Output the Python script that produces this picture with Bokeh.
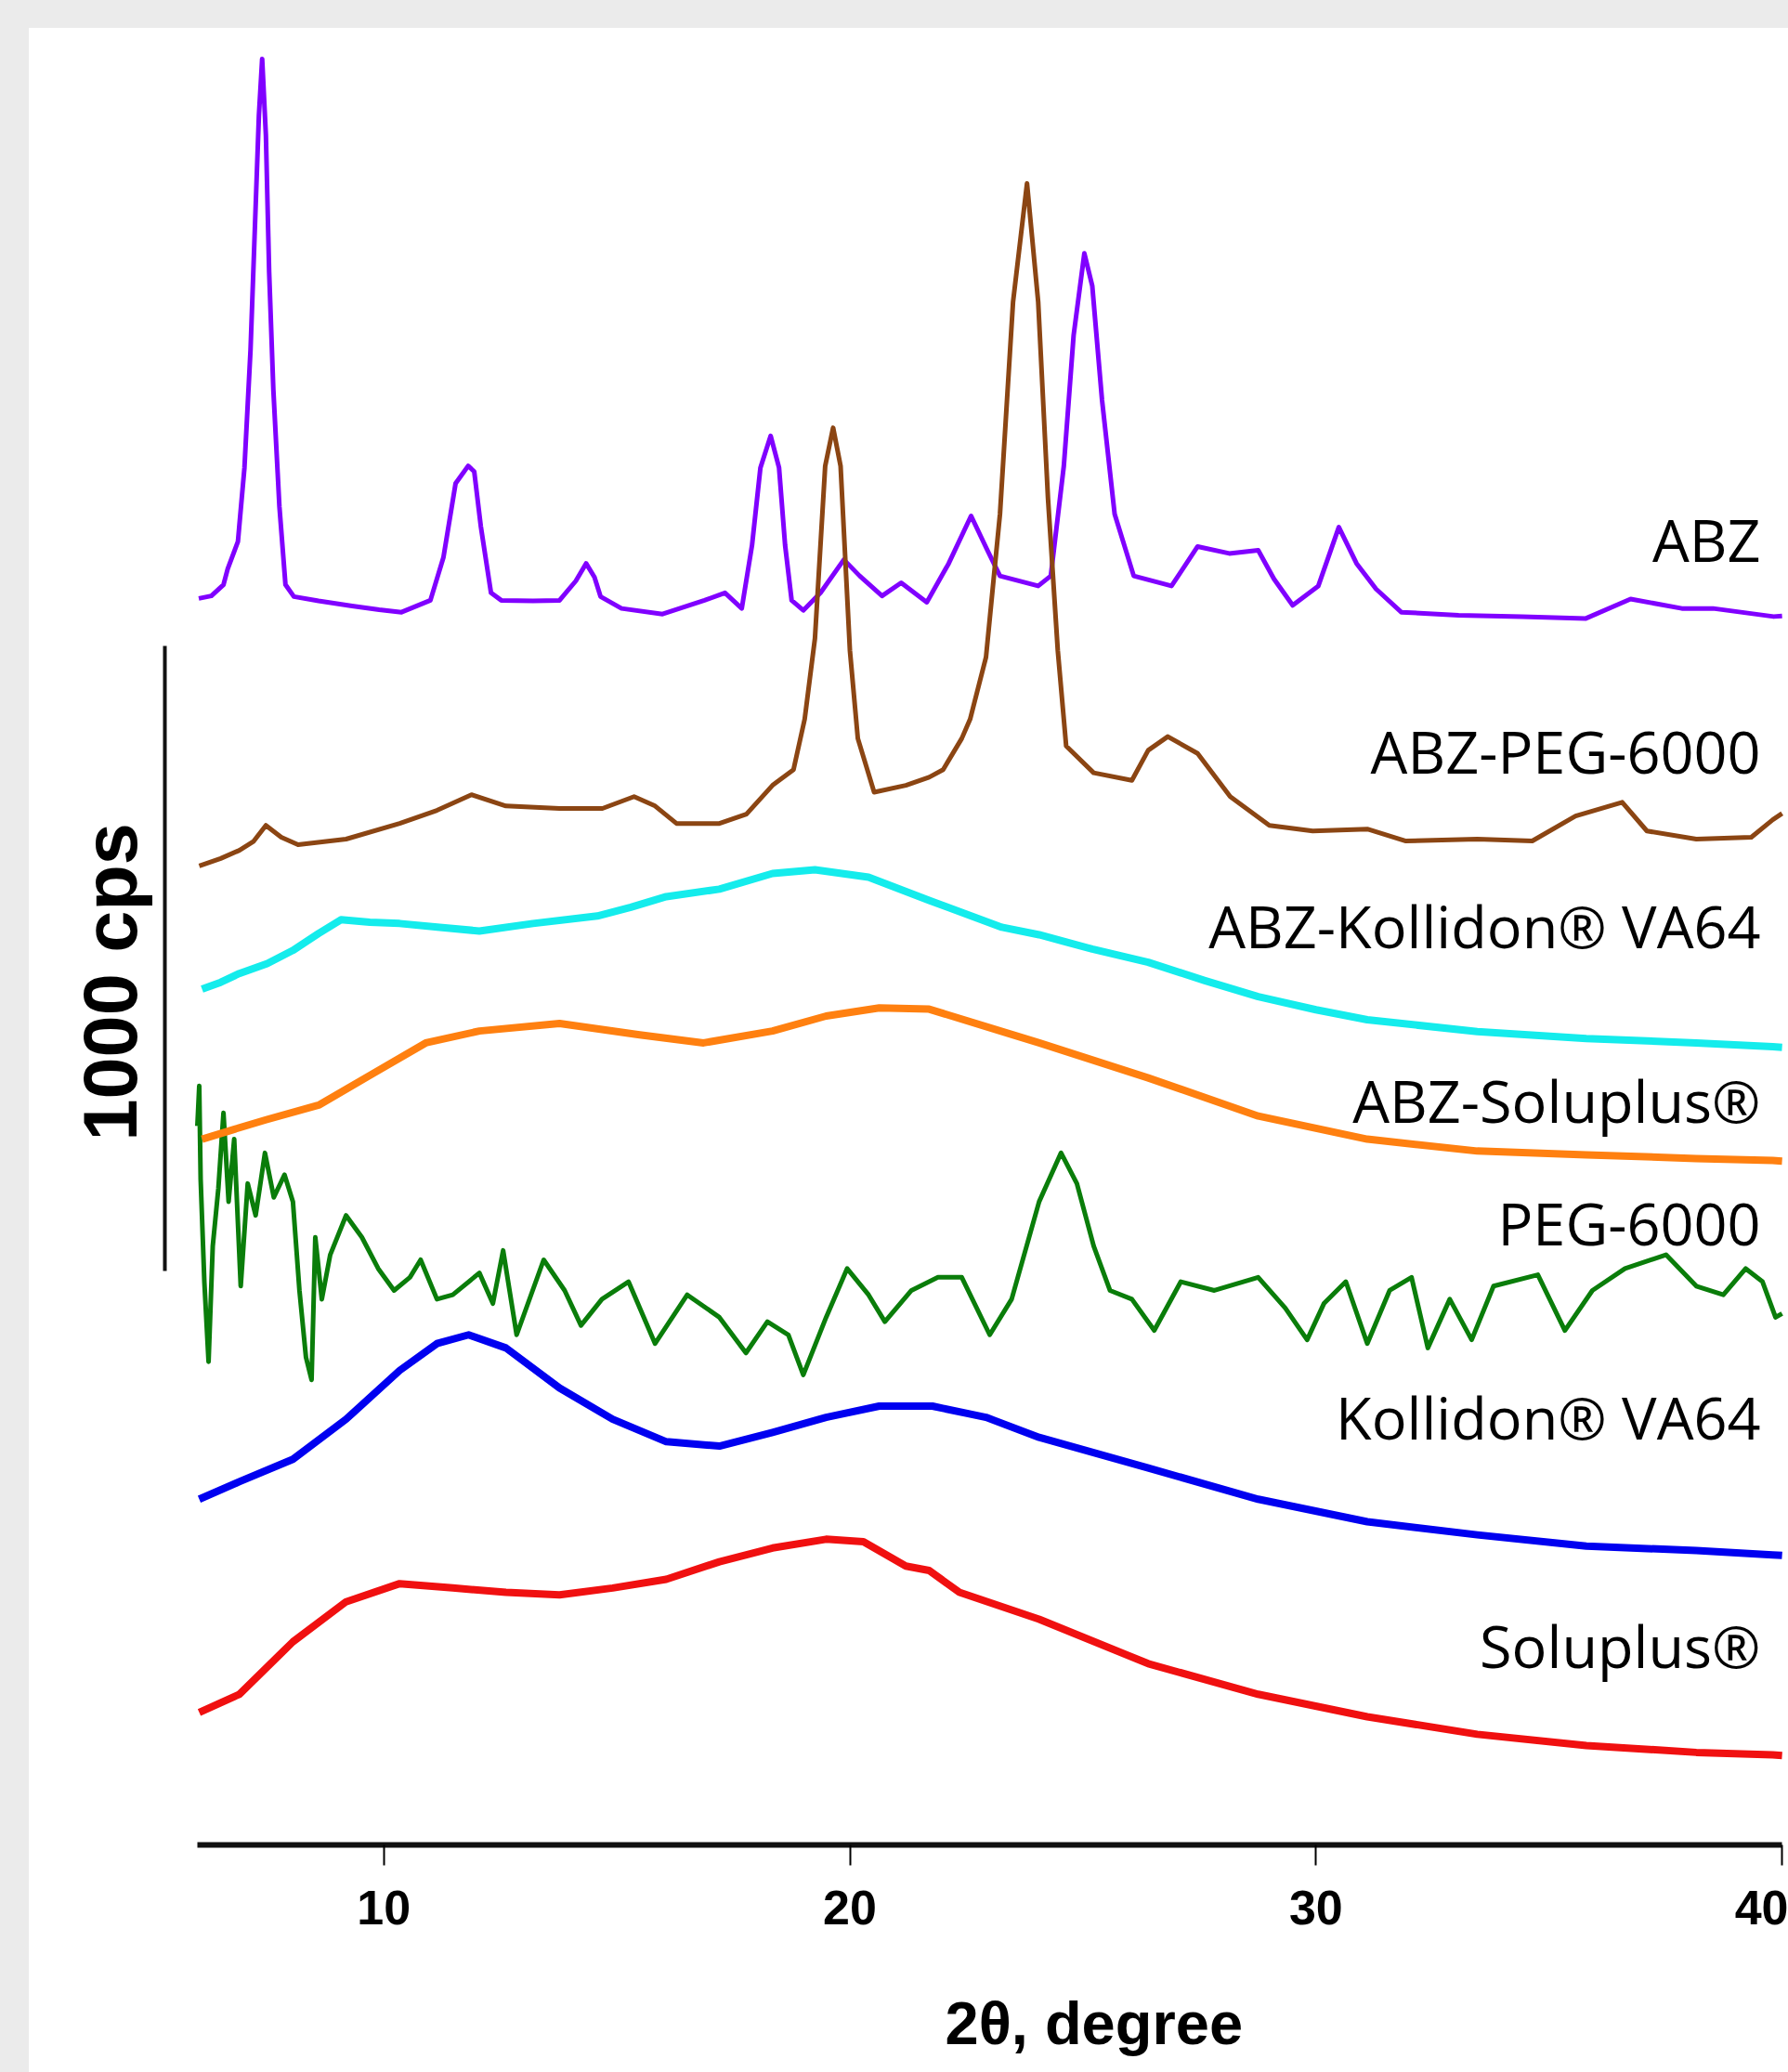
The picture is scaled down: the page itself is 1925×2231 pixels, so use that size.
from bokeh.plotting import figure
from bokeh.models import Range1d, LinearAxis, FixedTicker, Div, ColumnDataSource, Title
from bokeh.layouts import column, row
from bokeh.embed import file_html
from bokeh.resources import INLINE
from bokeh.core.properties import value

# ---------------- data (2theta in degrees, intensity in cps) ----------------
series_names = ["ABZ", "ABZ-PEG-6000", "ABZ-Kollidon\u00ae VA64", "ABZ-Soluplus\u00ae",
                "PEG-6000", "Kollidon\u00ae VA64", "Soluplus\u00ae"]
series_colors = ["#8000FF", "#8B4513", "#14ECEC", "#FF8010", "#0A7D0A", "#0000F0", "#F01010"]
stack_offsets = [1900, 1500, 1200, 1000, 700, 400, 100]

abz_x = [6.03, 6.3, 6.56, 6.65, 6.87, 7.01, 7.14, 7.23, 7.32, 7.39, 7.47, 7.54, 7.63, 7.76, 7.89,
         8.07, 8.6, 9.32, 9.9, 10.38, 11.0, 11.28, 11.54, 11.81, 11.94, 12.08, 12.3, 12.52, 13.2,
         13.77, 14.12, 14.34, 14.52, 14.65, 15.1, 15.98, 16.88, 17.32, 17.68, 17.9, 18.08, 18.3,
         18.48, 18.61, 18.75, 19.0, 19.37, 19.87, 20.21, 20.69, 21.1, 21.65, 22.12, 22.6, 22.95,
         23.22, 24.04, 24.31, 24.59, 24.8, 25.03, 25.2, 25.41, 25.68, 26.09, 26.9, 27.46, 28.14,
         28.76, 29.1, 29.5, 30.05, 30.49, 30.87, 31.29, 31.83, 33.06, 34.42, 35.79, 36.75, 37.85,
         38.52, 39.82, 40.0]
abz_y = [94, 98, 116, 141, 185, 303, 491, 679, 867, 957, 835, 616, 428, 241, 116,
         97, 90, 82, 76, 72, 91, 160, 278, 306, 297, 210, 103, 91, 90,
         91, 122, 150, 128, 97, 78, 69, 91, 103, 78, 179, 303, 354,
         303, 179, 91, 75, 103, 156, 130, 98, 119, 88, 150, 226, 171,
         130, 114, 130, 306, 515, 646, 594, 411, 229, 130, 114, 177, 166,
         171, 125, 83, 114, 208, 150, 109, 72, 67, 65, 62, 93, 78,
         78, 65, 66]

abz_peg_x = [6.04, 6.5, 6.9, 7.2, 7.47, 7.8, 8.16, 9.19, 10.34, 11.14, 11.88, 12.62, 13.77, 14.69,
             15.37, 15.82, 16.28, 17.2, 17.78, 18.34, 18.79, 19.03, 19.25, 19.47, 19.64, 19.8, 20.0,
             20.17, 20.52, 21.2, 21.7, 22.0, 22.4, 22.58, 22.92, 23.22, 23.5, 23.8, 24.04, 24.25,
             24.46, 24.64, 25.23, 26.05, 26.4, 26.82, 27.46, 28.16, 29.0, 29.93, 31.1, 31.93, 33.46,
             34.64, 35.57, 36.57, 37.1, 38.16, 39.34, 39.8, 40.0]
abz_peg_y = [66, 78, 91, 105, 131, 112, 100, 109, 134, 155, 180, 162, 158, 158,
             177, 162, 134, 134, 149, 195, 220, 301, 430, 706, 767, 706, 411,
             270, 184, 195, 208, 220, 270, 301, 400, 629, 968, 1158, 968, 654,
             411, 258, 215, 203, 251, 273, 246, 177, 131, 122, 125, 106, 109,
             106, 146, 168, 122, 109, 112, 140, 150]

abz_kol_x = [6.1, 6.5, 6.9, 7.5, 8.05, 8.6, 9.08, 9.7, 10.34, 11.2, 12.05, 13.2, 14.58, 15.3, 16.06,
             17.2, 18.34, 19.25, 20.4, 21.7, 23.26, 24.06, 25.2, 26.4, 27.6, 28.76, 30.0, 31.1,
             33.46, 35.8, 38.16, 39.8, 40.0]
abz_kol_y = [169, 180, 194, 210, 231, 258, 280, 276, 274, 268, 262, 274, 286, 300, 317,
             329, 354, 360, 348, 311, 268, 256, 233, 212, 183, 157, 136, 120,
             101, 90, 83, 77, 76]

abz_sol_x = [6.1, 6.8, 7.47, 8.62, 9.77, 10.9, 12.05, 13.77, 15.49, 16.86, 18.34, 19.49, 20.63,
             21.7, 23.49, 24.06, 26.4, 28.76, 31.1, 33.46, 35.8, 38.16, 39.8, 40.0]
abz_sol_y = [129, 145, 160, 184, 234, 283, 302, 314, 296, 283, 302, 326, 339,
             337, 296, 283, 227, 166, 129, 110, 104, 98, 95, 94]

peg_x = [6.0, 6.04, 6.07, 6.15, 6.24, 6.33, 6.45, 6.56, 6.67, 6.79, 6.93, 7.08, 7.25, 7.45, 7.64,
         7.87, 8.05, 8.19, 8.33, 8.45, 8.53, 8.67, 8.85, 9.19, 9.53, 9.88, 10.22, 10.56, 10.79,
         11.14, 11.48, 12.05, 12.34, 12.56, 12.85, 13.43, 13.88, 14.23, 14.68, 15.25, 15.82,
         16.51, 17.2, 17.77, 18.23, 18.68, 19.0, 19.49, 19.94, 20.4, 20.75, 21.32, 21.89, 22.4,
         23.0, 23.47, 24.06, 24.53, 24.87, 25.23, 25.58, 26.05, 26.53, 27.1, 27.82, 28.76,
         29.34, 29.81, 30.17, 30.64, 31.1, 31.58, 32.05, 32.4, 32.87, 33.34, 33.81, 34.76,
         35.34, 35.93, 36.63, 37.51, 38.16, 38.74, 39.22, 39.58, 39.86, 40.0]
peg_y = [450, 514, 365, 200, 73, 258, 350, 471, 329, 429, 194, 358, 307, 407, 336,
         372, 329, 187, 80, 44, 272, 173, 244, 307, 272, 222, 187, 208, 236,
         173, 180, 215, 166, 251, 116, 236, 187, 131, 173, 201, 102,
         180, 144, 87, 137, 116, 52, 144, 222, 180, 137, 187, 208, 208,
         116, 173, 329, 407, 358, 258, 187, 173, 123, 201, 187, 208,
         159, 108, 166, 201, 102, 187, 208, 95, 173, 108, 194, 212,
         123, 187, 222, 244, 194, 180, 222, 201, 144, 150]

kol_x = [6.04, 6.9, 8.05, 9.19, 10.34, 11.14, 11.82, 12.62, 13.77, 14.91, 16.06, 17.2, 18.34,
         19.49, 20.63, 21.77, 22.92, 24.06, 26.4, 28.76, 31.1, 33.46, 35.8, 38.16, 39.8, 40.0]
kol_y = [153, 181, 217, 281, 359, 402, 416, 395, 331, 281, 245, 238, 260,
         284, 302, 302, 284, 252, 203, 153, 117, 96, 78, 71, 64, 63]

sol_x = [6.04, 6.9, 8.05, 9.19, 10.34, 11.48, 12.62, 13.77, 14.91, 16.06, 17.2, 18.34, 19.49,
         20.29, 21.2, 21.7, 22.35, 24.06, 26.4, 28.76, 31.1, 33.46, 35.8, 38.16, 39.8, 40.0]
sol_y = [112, 141, 225, 289, 318, 311, 304, 300, 311, 325, 353, 375, 389,
         385, 346, 339, 304, 261, 190, 141, 105, 77, 59, 48, 44, 43]

series_x = [abz_x, abz_peg_x, abz_kol_x, abz_sol_x, peg_x, kol_x, sol_x]
series_y = [abz_y, abz_peg_y, abz_kol_y, abz_sol_y, peg_y, kol_y, sol_y]
series_widths = [5, 5, 8, 8, 5, 8, 8]

x_ticks = [10, 20, 30, 40]
x_bounds = (6, 40)
scale_bar_start = 918
scale_bar_cps = 1000

label_x = 39.54
label_y = [2089, 1750, 1471, 1192, 996, 685, 319]

# ---------------- figure ----------------
p = figure(width=1894, height=2201,
           x_range=Range1d(5.3025, 40.137), y_range=Range1d(0, 2906),
           x_axis_type=None, y_axis_type=None,
           output_backend="svg", toolbar_location=None,
           min_border_left=146, min_border_right=0, min_border_top=0, min_border_bottom=245,
           background_fill_color="white", border_fill_color="white")
p.outline_line_color = None
p.grid.visible = False

draw_order = [0, 4, 5, 6, 1, 2, 3]
for i in draw_order:
    ys = [v + stack_offsets[i] for v in series_y[i]]
    p.line(series_x[i], ys, line_color=series_colors[i], line_width=series_widths[i],
           line_join="round")

xaxis = LinearAxis(ticker=FixedTicker(ticks=x_ticks), bounds=x_bounds)
xaxis.axis_line_width = 6
xaxis.axis_line_color = "#111111"
xaxis.major_tick_out = 22
xaxis.major_tick_in = 0
xaxis.major_tick_line_width = 2
xaxis.minor_tick_out = 0
xaxis.minor_tick_in = 0
xaxis.major_label_text_font = "Liberation Sans"
xaxis.major_label_text_font_style = "bold"
xaxis.major_label_text_font_size = "52px"
xaxis.major_label_text_color = "black"
xaxis.major_label_standoff = 27
p.add_layout(xaxis, "below")

# invisible spacer (one hidden tick) between the tick labels and the axis title
spacer = LinearAxis(ticker=FixedTicker(ticks=[x_bounds[0]]),
                    major_label_overrides={x_bounds[0]: ""})
spacer.axis_line_color = None
spacer.major_tick_out = 50
spacer.major_tick_in = 0
spacer.minor_tick_out = 0
spacer.minor_tick_in = 0
spacer.major_tick_line_color = None
spacer.minor_tick_line_color = None
spacer.major_label_standoff = 0
spacer.major_label_text_font_size = "1px"
p.add_layout(spacer, "below")

x_title = Title(text="2\u03b8, degree", align="left", offset=840, standoff=30,
                vertical_align="bottom", text_font="Liberation Sans", text_font_style="bold",
                text_font_size="65px", text_color="black")
p.add_layout(x_title, "below")

yaxis = LinearAxis(ticker=FixedTicker(ticks=[]),
                   bounds=(scale_bar_start, scale_bar_start + scale_bar_cps))
yaxis.axis_line_width = 4
yaxis.axis_line_color = "#111111"
yaxis.major_tick_out = 0
yaxis.major_tick_in = 0
yaxis.minor_tick_out = 0
yaxis.minor_tick_in = 0
yaxis.major_label_text_font_size = "0px"
p.add_layout(yaxis, "left")

y_title = Title(text="1000 cps", align="left", offset=758, standoff=28,
                vertical_align="bottom", text_font="Liberation Sans", text_font_style="bold",
                text_font_size="81px", text_color="black")
p.add_layout(y_title, "left")

lab_src = ColumnDataSource(dict(x=[label_x] * len(series_names), y=label_y, t=series_names))
p.text(x="x", y="y", text="t", source=lab_src, text_align="right", text_baseline="middle",
       text_font=value("Open Sans"), text_font_size="63px", text_color="black")

top_strip = Div(width=1925, height=30, margin=0, styles={"background-color": "#ebebeb"})
left_strip = Div(width=31, height=2201, margin=0, styles={"background-color": "#ebebeb"})
p.margin = 0
layout = column(top_strip, row(left_strip, p, spacing=0, margin=0), spacing=0, margin=0)

open("out.html", "w").write(file_html(layout, INLINE))
